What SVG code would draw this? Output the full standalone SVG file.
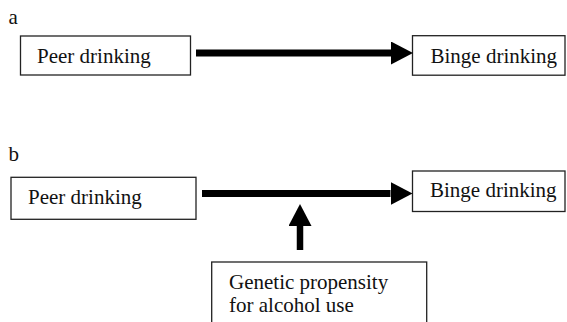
<svg xmlns="http://www.w3.org/2000/svg" width="567" height="322" viewBox="0 0 567 322">
<style>
  .box { fill: #fff; stroke: #222; stroke-width: 1.3; }
  .lbl { font-family: "Liberation Serif", "Times New Roman", serif; font-size: 21px; fill: #111; }
  .conn { stroke: #000; fill: none; }
</style>
<defs>
  <marker id="head" markerUnits="userSpaceOnUse" markerWidth="22" markerHeight="23" refX="0" refY="11.5" orient="auto" viewBox="0 0 22 23">
    <path d="M0,0 L22,11.5 L0,23 z" fill="#000"/>
  </marker>
</defs>
<rect width="567" height="322" fill="#fff"/>
<text class="lbl" x="8.5" y="24">a</text>
<text class="lbl" x="8.5" y="160.5">b</text>
<g id="a-peer">
  <rect class="box" x="20.5" y="36" width="170" height="39"/>
  <text class="lbl" x="37" y="63">Peer drinking</text>
</g>
<g id="a-binge">
  <rect class="box" x="412.5" y="35.7" width="152.5" height="39.5"/>
  <text class="lbl" x="430.5" y="63">Binge drinking</text>
</g>
<g id="b-peer">
  <rect class="box" x="11" y="177.3" width="185" height="42"/>
  <text class="lbl" x="28" y="203.5">Peer drinking</text>
</g>
<g id="b-binge">
  <rect class="box" x="412.5" y="171" width="152.5" height="40.5"/>
  <text class="lbl" x="430" y="197">Binge drinking</text>
</g>
<g id="b-genetic">
  <rect class="box" x="211.7" y="262" width="215" height="70"/>
  <text class="lbl" x="229" y="289">Genetic propensity</text>
  <text class="lbl" x="229" y="311.5">for alcohol use</text>
</g>
<g id="connectors">
  <path class="conn" stroke-width="7" d="M196,53 H391" marker-end="url(#head)"/>
  <path class="conn" stroke-width="7" d="M202,193.5 H390.5" marker-end="url(#head)"/>
  <path class="conn" stroke-width="6.5" d="M300,250 V226" marker-end="url(#head)"/>
</g>
</svg>
